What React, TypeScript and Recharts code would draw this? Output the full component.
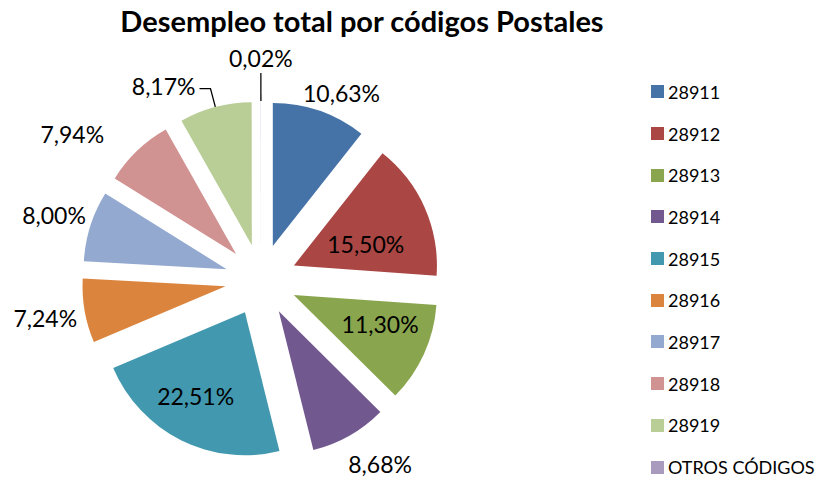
import { PieChart, Pie, Cell, Legend, Sector } from 'recharts';

const codes = ['28911', '28912', '28913', '28914', '28915', '28916', '28917', '28918', '28919', 'OTROS CÓDIGOS'];
const shares = [10.63, 15.5, 11.3, 8.68, 22.51, 7.24, 8.0, 7.94, 8.17, 0.02];
const colors = ['#4572A7', '#AA4643', '#89A54E', '#71588F', '#4198AF', '#DB843D', '#93A9CF', '#D19392', '#B9CD96', '#A99BBD'];

const data = codes.map((code, i) => ({ name: code, value: shares[i] }));

const RADIAN = Math.PI / 180;
const EXPLODE = 36;
const FONT = 'Lato, "Open Sans", sans-serif';

// label distance from the exploded apex and angle tweak (deg, clockwise) per slice
const labelDist = [168, 75, 91, 183, 97, 183, 181, 203, 186, 186];
const labelTurn = [5, 7, -6, -4, 4, 0, 0, -10, -16, 0];

function apexOf(cx: number, cy: number, midAngle: number) {
  return {
    x: cx + EXPLODE * Math.cos(-midAngle * RADIAN),
    y: cy + EXPLODE * Math.sin(-midAngle * RADIAN),
  };
}

function ExplodedSector(props: any) {
  const { cx, cy, midAngle } = props;
  const a = apexOf(cx, cy, midAngle);
  return <Sector {...props} cx={a.x} cy={a.y} stroke="none" />;
}

function renderLabel(props: any) {
  const { cx, cy, midAngle, outerRadius, index, value } = props;
  const a = apexOf(cx, cy, midAngle);
  const ang = midAngle - labelTurn[index];
  const x = a.x + labelDist[index] * Math.cos(-ang * RADIAN);
  const y = a.y + labelDist[index] * Math.sin(-ang * RADIAN);
  const text = value.toFixed(2).replace('.', ',') + '%';

  const px = (r: number) => a.x + r * Math.cos(-midAngle * RADIAN);
  const py = (r: number) => a.y + r * Math.sin(-midAngle * RADIAN);

  if (index === 8) {
    const ex = px(outerRadius + 19);
    const ey = py(outerRadius + 19);
    return (
      <g key={`lbl-${index}`}>
        <polyline
          points={`${px(outerRadius)},${py(outerRadius)} ${ex},${ey} ${ex - 11},${ey}`}
          fill="none"
          stroke="#000"
          strokeWidth={1.3}
        />
        <text x={ex - 15} y={ey - 3} textAnchor="end" dominantBaseline="central" fontFamily={FONT} fontSize={23} fill="#000">
          {text}
        </text>
      </g>
    );
  }
  if (index === 9) {
    return (
      <g key={`lbl-${index}`}>
        <line x1={px(outerRadius)} y1={py(outerRadius)} x2={px(outerRadius + 28)} y2={py(outerRadius + 28)} stroke="#000" strokeWidth={1.3} />
        <text x={x} y={y} textAnchor="middle" dominantBaseline="central" fontFamily={FONT} fontSize={23} fill="#000">
          {text}
        </text>
      </g>
    );
  }
  return (
    <text key={`lbl-${index}`} x={x} y={y} textAnchor="middle" dominantBaseline="central" fontFamily={FONT} fontSize={23} fill="#000">
      {text}
    </text>
  );
}

function LegendList(props: any) {
  const { payload } = props;
  return (
    <div style={{ fontFamily: FONT, fontSize: 18, color: '#000' }}>
      {(payload || []).map((entry: any) => (
        <div key={entry.value} style={{ height: 41.7, display: 'flex', alignItems: 'center' }}>
          <span style={{ display: 'inline-block', width: 13, height: 13, background: entry.color, marginRight: 4 }} />
          <span>{entry.value}</span>
        </div>
      ))}
    </div>
  );
}

export default function App() {
  return (
    <div style={{ position: 'absolute', left: 0, top: 0, width: 816, height: 479, background: '#fff' }}>
      <div
        style={{
          position: 'absolute',
          left: 0,
          top: 3,
          width: 724,
          textAlign: 'center',
          fontFamily: FONT,
          fontWeight: 700,
          fontSize: 29,
          color: '#000',
        }}
      >
        Desempleo total por códigos Postales
      </div>
      <PieChart width={816} height={479} margin={{ top: 0, right: 0, bottom: 0, left: 0 }}>
        <Pie
          data={data}
          dataKey="value"
          nameKey="name"
          cx={261}
          cy={280}
          outerRadius={143}
          startAngle={90}
          endAngle={-270}
          stroke="none"
          shape={ExplodedSector}
          label={renderLabel}
          labelLine={false}
          isAnimationActive={false}
        >
          {data.map((d, i) => (
            <Cell key={d.name} fill={colors[i]} />
          ))}
        </Pie>
        <Legend
          layout="vertical"
          align="right"
          verticalAlign="top"
          content={LegendList}
          wrapperStyle={{ position: 'absolute', left: 651, top: 71, width: 165 }}
        />
      </PieChart>
    </div>
  );
}
